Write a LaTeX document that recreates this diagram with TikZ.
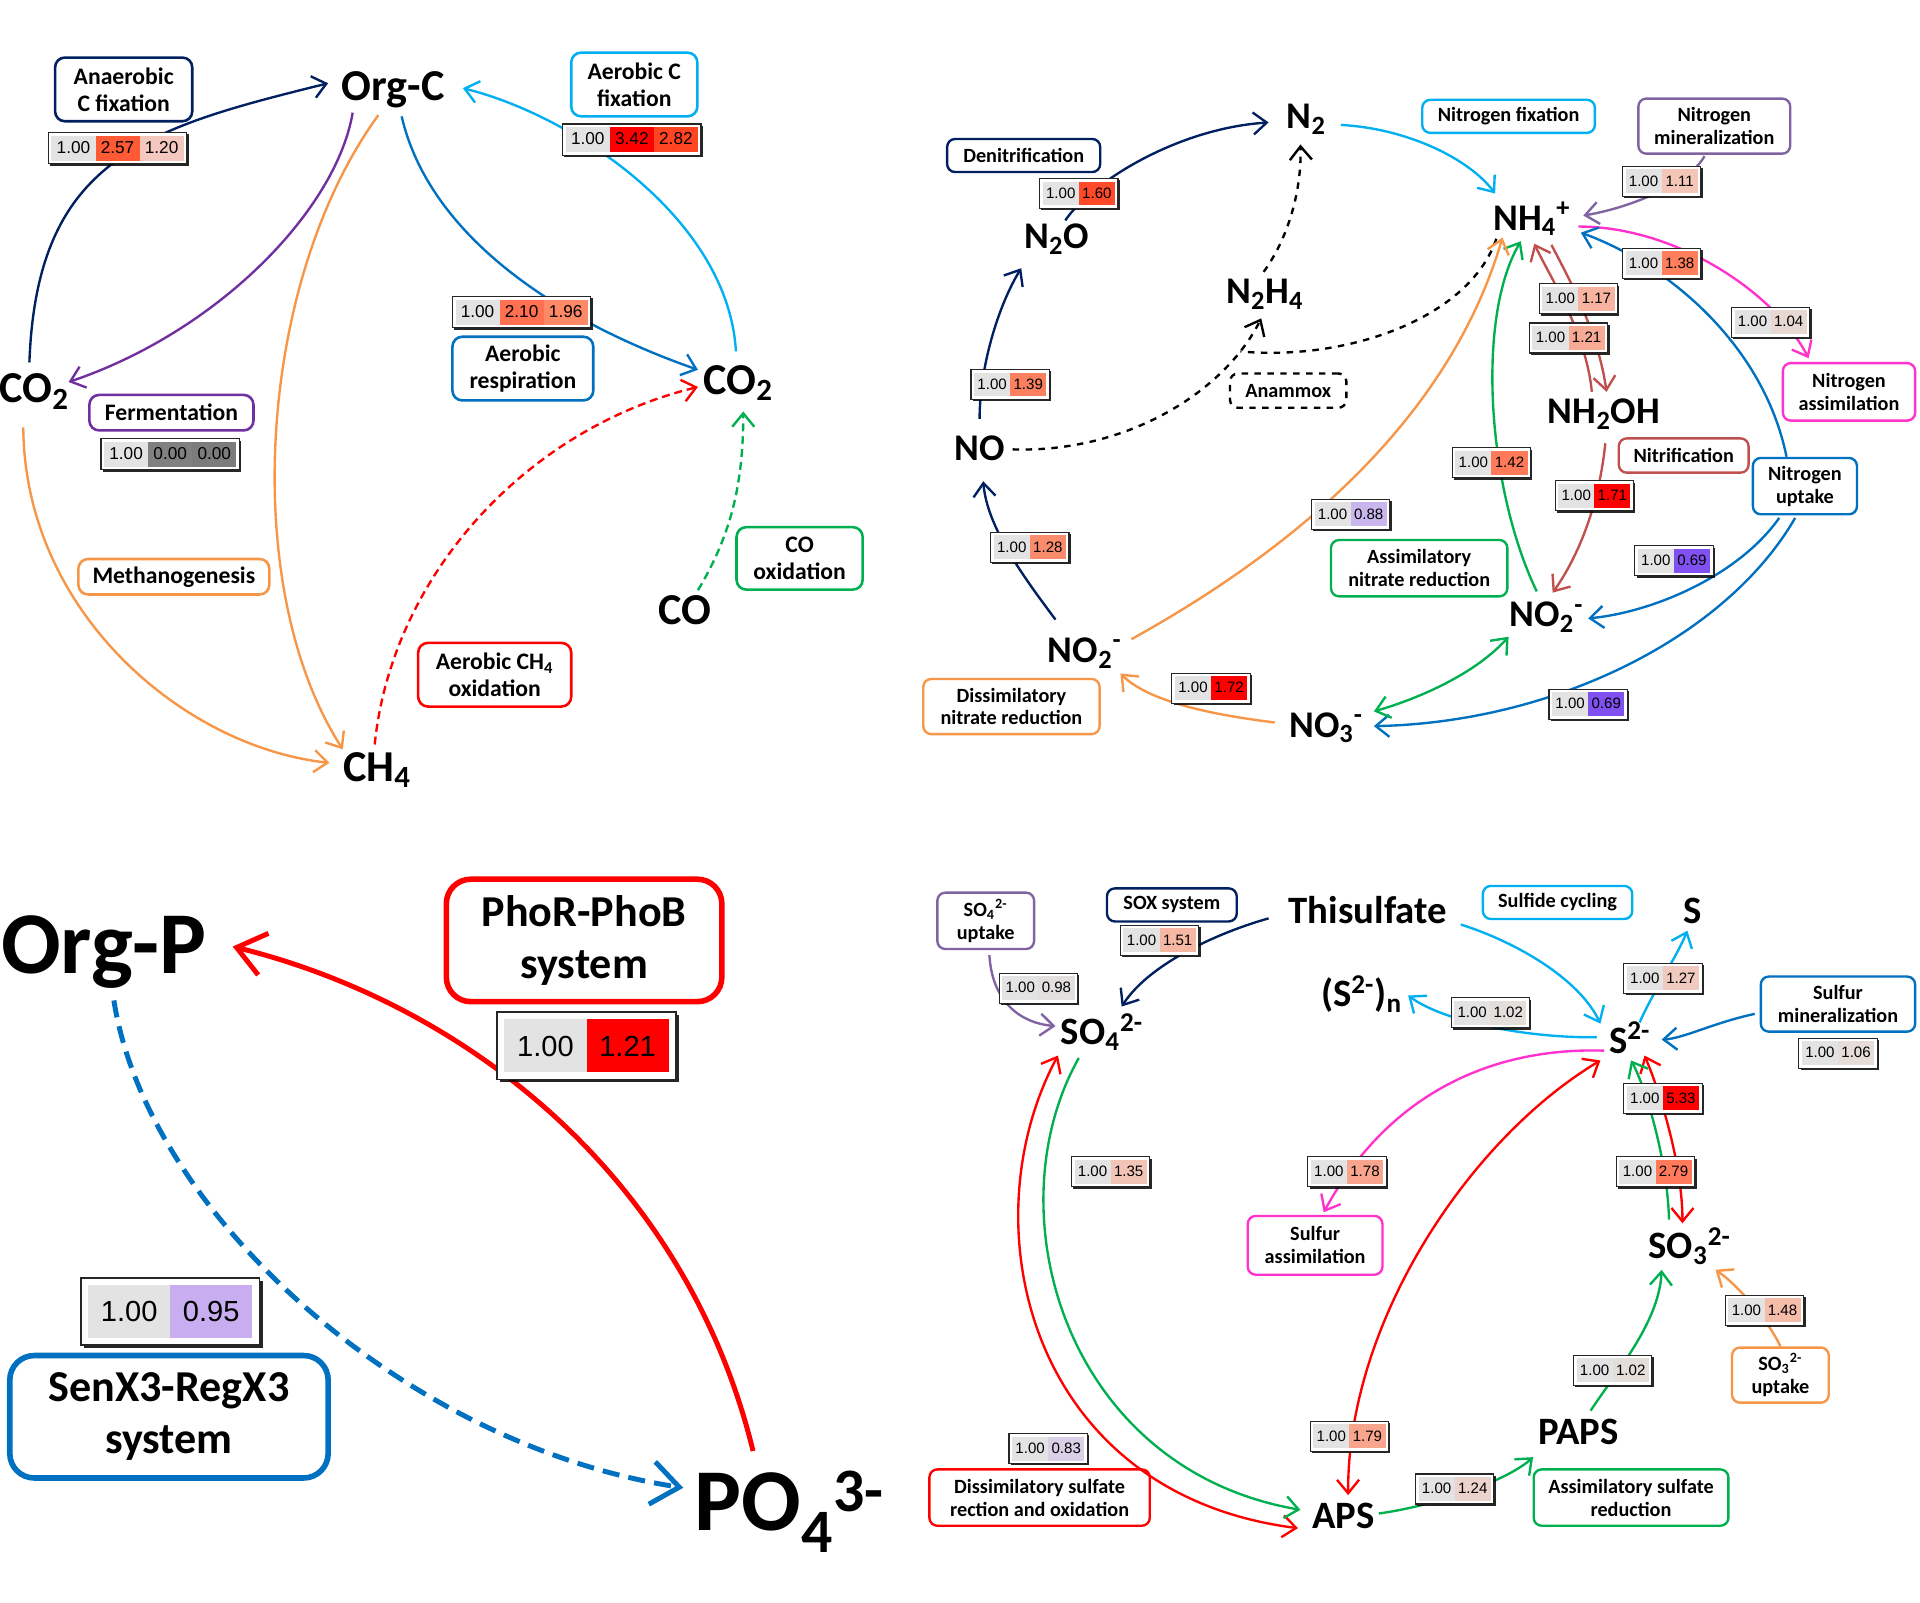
\documentclass[tikz,border=0pt]{standalone}
\usepackage{fontspec}
\setmainfont{Carlito}
\newfontfamily\valfont{Liberation Sans}
\usepackage{tikz}
\usetikzlibrary{arrows.meta, calc, shadows}

\definecolor{navy}{HTML}{002060}
\definecolor{skyblue}{HTML}{00B0F0}
\definecolor{midblue}{HTML}{0070C0}
\definecolor{purp}{HTML}{7030A0}
\definecolor{lilac}{HTML}{8064A2}
\definecolor{orng}{HTML}{F79646}
\definecolor{grn}{HTML}{00B050}
\definecolor{magn}{HTML}{FF33CC}
\definecolor{brick}{HTML}{C0504D}

\newlength\vcw
\newlength\vch
\setlength\fboxsep{0pt}
\newcommand\vcell[2]{\colorbox[HTML]{#1}{\makebox[\vcw]{\rule[-0.3\vch]{0pt}{\vch}#2}}}

\begin{document}
\begin{tikzpicture}[
    x=0.2mm, y=-0.2mm,
    >={Straight Barb[length=2.2mm,width=3.6mm]},
    proc/.style={draw, rounded corners=1.6mm, fill=white, line width=1.2pt, align=center, inner sep=0pt, font=\bfseries\fontsize{11}{12.5}\selectfont},
    procs/.style={proc, line width=1.1pt, rounded corners=1.3mm, font=\bfseries\fontsize{9.4}{10.6}\selectfont},
    procp/.style={proc, line width=2.6pt, rounded corners=4mm, font=\bfseries\fontsize{20.5}{24}\selectfont},
    chem/.style={anchor=base, inner sep=0.5mm, font=\bfseries\fontsize{20.5}{24}\selectfont},
    chemn/.style={chem, font=\bfseries\fontsize{17.5}{20}\selectfont},
    chems/.style={chem, font=\bfseries\fontsize{18}{20}\selectfont},
    chemp/.style={chem, font=\bfseries\fontsize{41}{46}\selectfont},
    vals/.style={draw=black!85, fill=white, line width=0.5pt, inner sep=0.5mm, drop shadow={shadow xshift=#1, shadow yshift=-#1, fill=black, opacity=0.85}},
    vals/.default=0.3mm,
    valc/.style={vals, font=\valfont\fontsize{8}{8.5}\selectfont\setlength\vcw{7.2mm}\setlength\vch{4.1mm}},
    valn/.style={vals, font=\valfont\fontsize{7}{7.5}\selectfont\setlength\vcw{5.9mm}\setlength\vch{3.9mm}},
    valp/.style={vals=0.5mm, inner sep=1.2mm, line width=0.8pt, font=\valfont\fontsize{13.5}{14}\selectfont\setlength\vcw{13.4mm}\setlength\vch{8.6mm}},
    flow/.style={->, line width=1.1pt},
    both/.style={<->, line width=1.1pt},
    pflow/.style={-{Straight Barb[length=4.5mm,width=7mm]}, line width=2.3pt}
]
\useasboundingbox[fill=white] (0,0) rectangle (1568,1309);

% ---------------- Carbon ----------------
\node[chem] (orgc) at (321,82) {Org-C};
\node[chem] (co2l) at (28,329) {CO\textsubscript{2}};
\node[chem] (co2r) at (603,322) {CO\textsubscript{2}};
\node[chem] (ch4) at (308,638) {CH\textsubscript{4}};
\node[chem] (co) at (559,510) {CO};

\node[proc, draw=navy, minimum width=22.4mm, minimum height=10.4mm] (anaer) at (101,73) {Anaerobic\\C fixation};
\node[proc, draw=skyblue, minimum width=20.6mm, minimum height=10.4mm] (aerfix) at (518,69) {Aerobic C\\fixation};
\node[proc, draw=midblue, minimum width=23mm, minimum height=10.4mm] (aerresp) at (427,301) {Aerobic\\respiration};
\node[proc, draw=purp, minimum width=26.8mm, minimum height=5.8mm] (ferm) at (140,337) {Fermentation};
\node[proc, draw=orng, minimum width=31.2mm, minimum height=5.8mm] (methano) at (142,471) {Methanogenesis};
\node[proc, draw=red, minimum width=25mm, minimum height=10.4mm] (ch4ox) at (404,551) {Aerobic CH\textsubscript{4}\\oxidation};
\node[proc, draw=grn, minimum width=20.6mm, minimum height=10.2mm] (coox) at (653,456) {CO\\oxidation};

\draw[flow, navy] ($(co2l.base)+(-4,-33)$) .. controls (30,130) and (118,105) .. ($(orgc.base)+(-53,-14)$);
\draw[flow, purp] ($(orgc.base)+(-33,10)$) .. controls (275,170) and (180,270) .. ($(co2l.base)+(28,-17)$);
\draw[flow, orng] ($(orgc.base)+(-12,12)$) .. controls (210,230) and (195,480) .. ($(ch4.base)+(-28,-26)$);
\draw[flow, orng] ($(co2l.base)+(-9,20)$) .. controls (20,500) and (150,610) .. ($(ch4.base)+(-39,-15)$);
\draw[flow, midblue] ($(orgc.base)+(7,13)$) .. controls (350,190) and (450,260) .. ($(co2r.base)+(-33,-20)$);
\draw[flow, skyblue] ($(co2r.base)+(-2,-35)$) .. controls (595,180) and (470,95) .. ($(orgc.base)+(57,-10)$);
\draw[flow, red, dash pattern=on 1.3mm off 0.8mm] ($(ch4.base)+(-2,-30)$) .. controls (320,470) and (430,350) .. ($(co2r.base)+(-33,-6)$);
\draw[flow, grn, dash pattern=on 1.3mm off 0.8mm] ($(co.base)+(11,-28)$) .. controls (595,440) and (607,400) .. ($(co2r.base)+(4,14)$);

\node[valc] (vanaer) at (96,121) {\vcell{E3E3E3}{1.00}\vcell{FF5A36}{2.57}\vcell{F4C8BE}{1.20}};
\node[valc] (vaerfix) at (516,114) {\vcell{E3E3E3}{1.00}\vcell{FF0000}{3.42}\vcell{FF4422}{2.82}};
\node[valc] (vaerresp) at (426,255) {\vcell{E3E3E3}{1.00}\vcell{FF7050}{2.10}\vcell{FF8866}{1.96}};
\node[valc] (vferm) at (139,371) {\vcell{E3E3E3}{1.00}\vcell{808080}{0.00}\vcell{7C7C7C}{0.00}};

% ---------------- Nitrogen ----------------
\node[chemn] (n2) at (1067,105) {N\textsubscript{2}};
\node[chemn] (n2o) at (863,203) {N\textsubscript{2}O};
\node[chemn] (n2h4) at (1033,248) {N\textsubscript{2}H\textsubscript{4}};
\node[chemn] (no) at (800,376) {NO};
\node[chemn] (nh4) at (1251,188) {NH\textsubscript{4}\textsuperscript{+}};
\node[chemn] (nh2oh) at (1310,346) {NH\textsubscript{2}OH};
\node[chemn] (no2l) at (886,541) {NO\textsubscript{2}\textsuperscript{-}};
\node[chemn] (no2r) at (1263,512) {NO\textsubscript{2}\textsuperscript{-}};
\node[chemn] (no3) at (1083,602) {NO\textsubscript{3}\textsuperscript{-}};

\node[procs, draw=navy, minimum width=25mm, minimum height=5.4mm] (denit) at (836,127) {Denitrification};
\node[procs, draw=skyblue, minimum width=28.2mm, minimum height=5.4mm] (nfix) at (1232,95) {Nitrogen fixation};
\node[procs, draw=lilac, minimum width=24.8mm, minimum height=9mm] (nmin) at (1400,103) {Nitrogen\\mineralization};
\node[procs, draw=magn, minimum width=21.6mm, minimum height=9.4mm] (nassim) at (1510,320) {Nitrogen\\assimilation};
\node[procs, draw=black, dashed, minimum width=19mm, minimum height=5.6mm] (anammox) at (1052,319) {Anammox};
\node[procs, draw=brick, minimum width=21.2mm, minimum height=5.6mm] (nitrif) at (1375,372) {Nitrification};
\node[procs, draw=midblue, minimum width=17mm, minimum height=9.2mm] (nupt) at (1474,397) {Nitrogen\\uptake};
\node[procs, draw=grn, minimum width=28.8mm, minimum height=9.2mm] (anr) at (1159,464) {Assimilatory\\nitrate reduction};
\node[procs, draw=orng, minimum width=28.8mm, minimum height=9mm] (dnr) at (826,577) {Dissimilatory\\nitrate reduction};

\draw[flow, navy] ($(no2l.base)+(-24,-35)$) .. controls (835,470) and (806,430) .. ($(no.base)+(3,17)$);
\draw[flow, navy] ($(no.base)+(0,-34)$) .. controls (800,300) and (815,250) .. ($(n2o.base)+(-29,16)$);
\draw[flow, navy] ($(n2o.base)+(7,-23)$) .. controls (890,150) and (960,105) .. ($(n2.base)+(-31,-5)$);
\draw[flow, skyblue] ($(n2.base)+(28,-3)$) .. controls (1150,105) and (1200,130) .. ($(nh4.base)+(-30,-30)$);
\draw[flow, lilac] ($(nmin.south)+(-8,1)$) .. controls (1380,150) and (1330,170) .. ($(nh4.base)+(42,-12)$);
\draw[flow, magn] ($(nh4.base)+(38,-3)$) .. controls (1370,185) and (1450,240) .. ($(nassim.north)+(-33,-3)$);
\draw[flow, midblue] ($(nupt.north)+(-15,0)$) .. controls (1440,280) and (1360,215) .. ($(nh4.base)+(40,2)$);
\draw[flow, midblue] ($(nupt.south)+(-21,2)$) .. controls (1420,470) and (1350,500) .. ($(no2r.base)+(34,-7)$);
\draw[flow, midblue] ($(nupt.south)+(-8,2)$) .. controls (1410,520) and (1270,590) .. ($(no3.base)+(39,-9)$);
\draw[flow, dashed] ($(no.base)+(27,-9)$) .. controls (920,370) and (1000,320) .. ($(n2h4.base)+(-3,12)$);
\draw[flow, dashed] ($(n2h4.base)+(-1,-26)$) .. controls (1055,190) and (1063,150) .. ($(n2.base)+(-5,13)$);
\coordinate (amx) at (1013,287);
\draw[line width=1.1pt, dashed] ($(nh4.base)+(-29,7)$) .. controls (1200,260) and (1100,295) .. (amx);
\draw[flow, brick] ($(nh2oh.base)+(-10,-26)$) .. controls (1295,270) and (1265,225) .. ($(nh4.base)+(2,11)$);
\draw[flow, brick] ($(nh4.base)+(16,12)$) .. controls (1280,225) and (1305,270) .. ($(nh2oh.base)+(2,-26)$);
\draw[flow, brick] ($(nh2oh.base)+(1,16)$) .. controls (1305,420) and (1285,460) .. ($(no2r.base)+(5,-28)$);
\draw[flow, grn] ($(no2r.base)+(-8,-29)$) .. controls (1215,400) and (1205,260) .. ($(nh4.base)+(-9,9)$);
\draw[both, grn] ($(no3.base)+(39,-21)$) .. controls (1160,570) and (1205,550) .. ($(no2r.base)+(-31,8)$);
\draw[flow, orng] ($(no3.base)+(-42,-12)$) .. controls (1000,585) and (940,575) .. ($(no2l.base)+(29,9)$);
\draw[flow, orng] ($(no2l.base)+(38,-19)$) .. controls (1090,430) and (1190,320) .. ($(nh4.base)+(-24,6)$);

\node[valn] (vdenit) at (881,158) {\vcell{E3E3E3}{1.00}\vcell{FF4A2A}{1.60}};
\node[valn] (vnmin) at (1357,148) {\vcell{E3E3E3}{1.00}\vcell{F4C6B8}{1.11}};
\node[valn] (vnupt) at (1357,215) {\vcell{E3E3E3}{1.00}\vcell{FF7F5C}{1.38}};
\node[valn] (vnitrifa) at (1289,244) {\vcell{E3E3E3}{1.00}\vcell{F8B4A0}{1.17}};
\node[valn] (vnitrifb) at (1281,276) {\vcell{E3E3E3}{1.00}\vcell{F7AA94}{1.21}};
\node[valn] (vnassim) at (1446,263) {\vcell{E3E3E3}{1.00}\vcell{E8D8D2}{1.04}};
\node[valn] (vno) at (825,314) {\vcell{E3E3E3}{1.00}\vcell{FA8060}{1.39}};
\node[valn] (vanr) at (1218,378) {\vcell{E3E3E3}{1.00}\vcell{FF7A58}{1.42}};
\node[valn] (vnitrifc) at (1302,405) {\vcell{E3E3E3}{1.00}\vcell{FF0000}{1.71}};
\node[valn] (vdnra) at (1103,420) {\vcell{E3E3E3}{1.00}\vcell{C8B6EC}{0.88}};
\node[valn] (vnir) at (841,447) {\vcell{E3E3E3}{1.00}\vcell{F98C6C}{1.28}};
\node[valn] (vnuptb) at (1367,458) {\vcell{E3E3E3}{1.00}\vcell{8050F0}{0.69}};
\node[valn] (vdnrb) at (989,562) {\vcell{E3E3E3}{1.00}\vcell{FF0000}{1.72}};
\node[valn] (vnuptc) at (1297,575) {\vcell{E3E3E3}{1.00}\vcell{8050F0}{0.69}};

% ---------------- Phosphorus ----------------
\node[chemp] (orgp) at (85,795) {Org-P};
\node[chemp] (po4) at (645,1250) {PO\textsubscript{4}\textsuperscript{3-}};

\node[procp, draw=red, minimum width=45mm, minimum height=20mm] (phorb) at (477,768) {PhoR-PhoB\\system};
\node[procp, draw=midblue, minimum width=52mm, minimum height=20mm] (senx) at (138,1157) {SenX3-RegX3\\system};

\draw[pflow, red] ($(po4.base)+(-30,-65)$) .. controls (560,960) and (380,820) .. ($(orgp.base)+(105,-22)$);
\draw[pflow, midblue, dash pattern=on 2.8mm off 1.5mm] ($(orgp.base)+(8,22)$) .. controls (120,990) and (330,1180) .. ($(po4.base)+(-87,-35)$);

\node[valp] (vphorb) at (479,854) {\vcell{E3E3E3}{1.00}\vcell{FF0000}{1.21}};
\node[valp] (vsenx) at (139,1071) {\vcell{E3E3E3}{1.00}\vcell{C8AEF0}{0.95}};

% ---------------- Sulfur ----------------
\node[chems] (thio) at (1117,754) {Thisulfate};
\node[chems] (sS) at (1382,754) {S};
\node[chems] (sn) at (1112,822) {(S\textsuperscript{2-})\textsubscript{n}};
\node[chems] (so4) at (900,853) {SO\textsubscript{4}\textsuperscript{2-}};
\node[chems] (s2) at (1331,860) {S\textsuperscript{2-}};
\node[chems] (so3) at (1380,1028) {SO\textsubscript{3}\textsuperscript{2-}};
\node[chems] (paps) at (1289,1180) {PAPS};
\node[chems] (aps) at (1097,1248) {APS};

\node[procs, draw=lilac, minimum width=15.8mm, minimum height=9.2mm] (so4upt) at (805,752) {SO\textsubscript{4}\textsuperscript{2-}\\uptake};
\node[procs, draw=navy, minimum width=21.2mm, minimum height=5.4mm] (sox) at (957,739) {SOX system};
\node[procs, draw=skyblue, minimum width=24.4mm, minimum height=5.4mm] (scyc) at (1272,737) {Sulfide cycling};
\node[procs, draw=midblue, minimum width=25.2mm, minimum height=9mm] (smin) at (1501,820) {Sulfur\\mineralization};
\node[procs, draw=magn, minimum width=22mm, minimum height=9.6mm] (sassim) at (1074,1017) {Sulfur\\assimilation};
\node[procs, draw=orng, minimum width=15.8mm, minimum height=9mm] (so3upt) at (1454,1123) {SO\textsubscript{3}\textsuperscript{2-}\\uptake};
\node[procs, draw=red, minimum width=36mm, minimum height=9.2mm] (dsro) at (849,1223) {Dissimilatory sulfate\\rection and oxidation};
\node[procs, draw=grn, minimum width=31.8mm, minimum height=9.2mm] (asr) at (1332,1223) {Assimilatory sulfate\\reduction};

\draw[flow, lilac] ($(so4upt.south)+(3,4)$) .. controls (810,815) and (830,835) .. ($(so4.base)+(-38,-15)$);
\draw[flow, navy] ($(thio.base)+(-81,-4)$) .. controls (1000,760) and (940,785) .. ($(so4.base)+(16,-31)$);
\draw[flow, skyblue] ($(thio.base)+(76,1)$) .. controls (1240,770) and (1290,800) .. ($(s2.base)+(-24,-24)$);
\draw[flow, skyblue] ($(s2.base)+(8,-25)$) .. controls (1350,810) and (1370,780) .. ($(sS.base)+(-4,6)$);
\draw[flow, skyblue] ($(s2.base)+(-27,-13)$) .. controls (1250,848) and (1180,835) .. ($(sn.base)+(38,-9)$);
\draw[flow, midblue] ($(smin.west)+(-4,8)$) .. controls (1400,835) and (1375,848) .. ($(s2.base)+(26,-11)$);
\draw[flow, magn] ($(s2.base)+(-21,-2)$) .. controls (1210,855) and (1130,900) .. ($(sassim.north)+(7,-2)$);
\draw[both, red] ($(s2.base)+(12,2)$) .. controls (1355,890) and (1374,950) .. ($(so3.base)+(-6,-29)$);
\draw[flow, grn] ($(so3.base)+(-17,-32)$) .. controls (1362,950) and (1345,890) .. ($(s2.base)+(1,6)$);
\draw[both, red] ($(so4.base)+(-36,9)$) .. controls (790,1000) and (840,1220) .. ($(aps.base)+(-37,0)$);
\draw[flow, grn] ($(so4.base)+(-19,11)$) .. controls (810,990) and (870,1200) .. ($(aps.base)+(-35,-15)$);
\draw[both, red] ($(s2.base)+(-24,6)$) .. controls (1200,930) and (1100,1080) .. ($(aps.base)+(4,-27)$);
\draw[flow, grn] ($(paps.base)+(10,-28)$) .. controls (1320,1120) and (1355,1080) .. ($(so3.base)+(-23,9)$);
\draw[flow, grn] ($(aps.base)+(29,-12)$) .. controls (1170,1230) and (1230,1210) .. ($(paps.base)+(-37,10)$);
\draw[flow, orng] (so3upt.north) .. controls (1445,1080) and (1420,1050) .. ($(so3.base)+(21,9)$);

\node[valn] (vso4upt) at (848,807) {\vcell{E3E3E3}{1.00}\vcell{E2DFDF}{0.98}};
\node[valn] (vsox) at (947,768) {\vcell{E3E3E3}{1.00}\vcell{F6B7A3}{1.51}};
\node[valn] (vsS) at (1358,799) {\vcell{E3E3E3}{1.00}\vcell{F0CABE}{1.27}};
\node[valn] (vsn) at (1217,827) {\vcell{E3E3E3}{1.00}\vcell{E4DEDB}{1.02}};
\node[valn] (vsmin) at (1501,860) {\vcell{E3E3E3}{1.00}\vcell{E6DCD8}{1.06}};
\node[valn] (vsira) at (1358,897) {\vcell{E3E3E3}{1.00}\vcell{FF0000}{5.33}};
\node[valn] (vdsra) at (907,957) {\vcell{E3E3E3}{1.00}\vcell{F2C4B6}{1.35}};
\node[valn] (vsassim) at (1100,957) {\vcell{E3E3E3}{1.00}\vcell{F9A58D}{1.78}};
\node[valn] (vsirb) at (1352,957) {\vcell{E3E3E3}{1.00}\vcell{FF7A5A}{2.79}};
\node[valn] (vso3upt) at (1441,1070) {\vcell{E3E3E3}{1.00}\vcell{F6BCAA}{1.48}};
\node[valn] (vpaps) at (1317,1119) {\vcell{E3E3E3}{1.00}\vcell{E4DEDB}{1.02}};
\node[valn] (vaps) at (1102,1173) {\vcell{E3E3E3}{1.00}\vcell{F9A58D}{1.79}};
\node[valn] (vdsro) at (856,1183) {\vcell{E3E3E3}{1.00}\vcell{DAD0E8}{0.83}};
\node[valn] (vasr) at (1188,1216) {\vcell{E3E3E3}{1.00}\vcell{EBD2CA}{1.24}};

\end{tikzpicture}
\end{document}
